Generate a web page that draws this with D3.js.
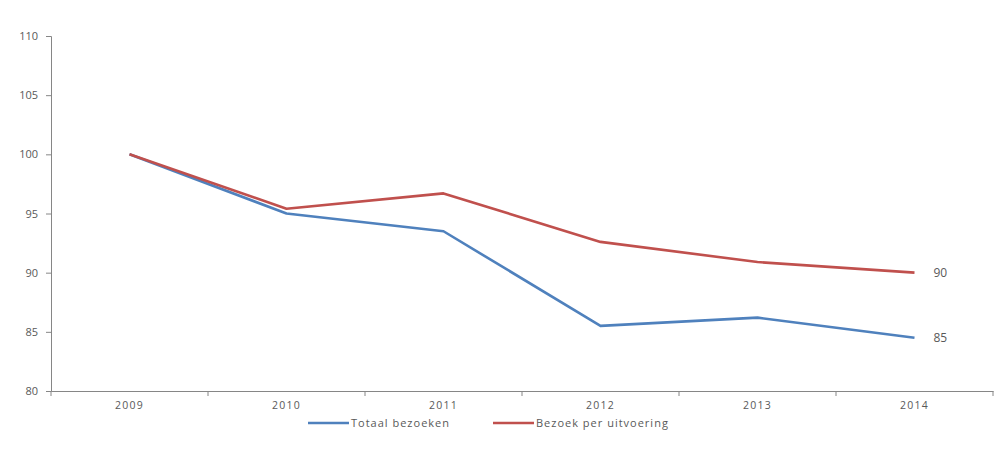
<!DOCTYPE html>
<html><head><meta charset="utf-8">
<script src="https://cdn.jsdelivr.net/npm/d3@7"></script>
<style>body{margin:0;background:#fff}svg{display:block}text{font-family:"Open Sans",sans-serif}</style>
</head><body><svg id="c" width="998" height="465"></svg>
<script>
const years = ["2009","2010","2011","2012","2013","2014"];
const totaal = [100, 95.0, 93.5, 85.5, 86.2, 84.5];
const perUitvoering = [100, 95.4, 96.7, 92.6, 90.9, 90.0];
const yTicks = [80, 85, 90, 95, 100, 105, 110];
const seriesNames = ["Totaal bezoeken", "Bezoek per uitvoering"];
const colors = ["#4F81BD", "#C0504D"];
const textColor = "#595959";

const svg = d3.select("#c");
const x = d3.scaleBand().domain(years).range([51, 993]);
const y = d3.scaleLinear().domain([80, 110]).range([391, 36]);

// y axis
const ya = svg.append("g").attr("transform","translate(51,0)")
  .call(d3.axisLeft(y).tickValues(yTicks).tickSize(5).tickPadding(8));
ya.selectAll("path,line").attr("stroke","#868686");
ya.selectAll("text").style("font-size","11px").style("fill", textColor);

// x axis
const xa = svg.append("g").attr("transform","translate(0,391)")
  .call(d3.axisBottom(x).tickSize(0).tickPadding(11));
xa.select("path").attr("stroke","#868686");
xa.selectAll("text").style("font-size","10.5px").style("letter-spacing","1.2px").style("fill", textColor);
const bounds = years.map(d => x(d)).concat([x.range()[1]]);
xa.selectAll(".sep").data(bounds).enter().append("line")
  .attr("x1", d=>d).attr("x2", d=>d).attr("y1",0).attr("y2",5).attr("stroke","#868686");

const line = d3.line().x((d,i)=>x(years[i]) + x.bandwidth()/2).y(d=>y(d));
[totaal, perUitvoering].forEach((s,k)=>{
  svg.append("path").datum(s).attr("d", line).attr("fill","none")
    .attr("stroke", colors[k]).attr("stroke-width", 2.6).attr("stroke-linejoin","round");
  const last = s[s.length-1];
  svg.append("text").attr("x", x(years[years.length-1]) + x.bandwidth()/2 + 19)
    .attr("y", y(last) + 4).style("font-size","12px").style("fill", textColor).text(Math.round(last));
});

// legend
const lg = svg.append("g");
const lx = [308, 493];
seriesNames.forEach((n,k)=>{
  lg.append("line").attr("x1", lx[k]).attr("x2", lx[k]+41).attr("y1",423).attr("y2",423)
    .attr("stroke", colors[k]).attr("stroke-width", 2.6);
  lg.append("text").attr("x", lx[k]+43).attr("y", 427).style("font-size","11px")
    .style("letter-spacing","1px").style("fill", textColor).text(n);
});
</script></body></html>
